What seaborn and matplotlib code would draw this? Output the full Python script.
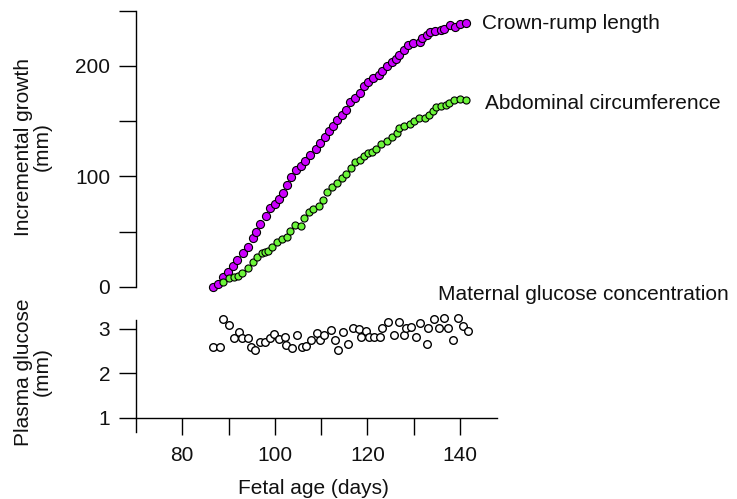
import matplotlib
matplotlib.use("Agg")
import matplotlib.pyplot as plt
import seaborn as sns
import pandas as pd

# Crown-rump length (purple)
crl_day = [86.6, 87.8, 88.7, 89.8, 90.9, 91.9, 93.1, 94.2, 95.2, 96.0, 96.9, 98.1, 99.0, 100.0,
           100.9, 101.8, 102.6, 103.5, 104.6, 105.7, 106.6, 107.7, 108.8, 109.8, 110.8, 111.6,
           112.5, 113.4, 114.5, 115.4, 116.3, 117.4, 118.4, 119.2, 120.1, 121.2, 122.4, 123.2,
           124.3, 125.3, 126.1, 126.9, 127.8, 128.8, 129.9, 131.3, 131.8, 132.9, 133.6, 134.7,
           135.8, 136.5, 137.8, 139.0, 140.1, 141.4]
crl_mm = [0.3, 2.7, 9.3, 13.8, 19.0, 24.4, 30.4, 36.5, 44.0, 49.4, 56.7, 64.2, 71.8, 75.1,
          79.3, 85.3, 92.3, 99.8, 105.9, 109.8, 114.0, 119.4, 124.9, 130.6, 136.0, 141.1,
          146.0, 151.1, 155.6, 160.2, 167.1, 171.3, 175.2, 181.9, 185.8, 188.8, 191.8, 195.4,
          200.0, 203.3, 206.3, 209.9, 214.5, 219.0, 220.5, 221.4, 225.6, 228.0, 230.4, 231.9,
          232.6, 233.2, 237.1, 235.6, 238.0, 239.2]

# Abdominal circumference (green)
ac_day = [88.9, 90.1, 91.1, 92.0, 93.0, 94.2, 95.2, 96.1, 97.3, 97.8, 98.6, 99.4, 100.4, 101.5,
          102.6, 103.3, 104.4, 105.6, 106.4, 107.3, 108.2, 109.5, 110.5, 111.3, 112.4, 113.4,
          114.5, 115.4, 116.5, 117.4, 118.5, 119.2, 120.1, 121.0, 121.9, 123.0, 124.3, 125.4,
          126.5, 126.9, 127.9, 129.1, 130.0, 131.1, 132.4, 133.3, 134.1, 134.9, 135.8, 136.9,
          137.7, 138.8, 140.1, 141.4]
ac_mm = [4.8, 8.4, 9.3, 10.2, 12.3, 17.5, 22.3, 26.8, 30.4, 31.3, 32.9, 35.9, 40.4, 43.1,
         45.5, 50.7, 56.1, 55.2, 62.1, 67.5, 70.6, 73.6, 78.7, 86.2, 90.2, 93.8,
         98.3, 101.9, 108.0, 112.8, 114.9, 118.8, 120.9, 121.8, 124.9, 129.1, 132.1, 136.0,
         139.0, 143.6, 145.7, 147.5, 150.5, 152.6, 152.6, 155.6, 159.2, 163.2, 163.8, 164.7,
         166.2, 169.2, 170.1, 169.2]

# Maternal plasma glucose (open circles)
glu_day = [86.6, 88.2, 88.9, 90.2, 91.2, 92.2, 92.8, 94.3, 94.9, 95.8, 96.7, 97.9, 98.9, 99.9,
           101.0, 102.3, 102.5, 103.6, 104.8, 105.9, 106.8, 107.8, 109.1, 109.7, 110.7, 112.1,
           112.9, 113.7, 114.7, 115.8, 116.8, 118.2, 118.7, 119.8, 120.3, 121.4, 122.7, 123.2,
           124.4, 125.7, 126.8, 127.9, 128.3, 129.5, 130.4, 131.3, 132.8, 133.1, 134.4, 135.5,
           136.5, 137.5, 138.5, 139.5, 140.7, 141.7]
glu_mm = [2.59, 2.60, 3.22, 3.10, 2.80, 2.94, 2.79, 2.80, 2.60, 2.53, 2.71, 2.70, 2.79, 2.88,
          2.77, 2.83, 2.64, 2.57, 2.87, 2.60, 2.62, 2.75, 2.90, 2.75, 2.87, 2.98,
          2.75, 2.53, 2.94, 2.66, 3.03, 3.00, 2.81, 2.96, 2.81, 2.81, 2.81, 3.03,
          3.15, 2.87, 3.16, 2.87, 3.03, 3.05, 2.83, 3.13, 2.66, 3.03, 3.22, 3.03,
          3.25, 3.03, 2.75, 3.25, 3.07, 2.96]

growth = pd.concat([
    pd.DataFrame({"day": crl_day, "mm": crl_mm, "series": "Crown-rump length"}),
    pd.DataFrame({"day": ac_day, "mm": ac_mm, "series": "Abdominal circumference"}),
])
glucose = pd.DataFrame({"day": glu_day, "mm": glu_mm})

sns.set_style("ticks")
plt.rcParams["font.family"] = ["Liberation Sans", "DejaVu Sans"]
fs = 15
plt.rcParams["font.size"] = fs

W, H = 737, 499
fig = plt.figure(figsize=(W / 100, H / 100), dpi=100)
ax1 = fig.add_axes([136 / W, (H - 292.5) / H, 361 / W, 287.3 / H])
ax2 = fig.add_axes([136 / W, (H - 432) / H, 361 / W, 116.4 / H])

PURPLE = "#cc00ff"
GREEN = "#6cf53a"

sns.scatterplot(data=growth[growth.series == "Crown-rump length"], x="day", y="mm", ax=ax1,
                color=PURPLE, edgecolor="black", linewidth=0.8, s=34, clip_on=False, zorder=3,
                legend=False)
sns.scatterplot(data=growth[growth.series == "Abdominal circumference"], x="day", y="mm", ax=ax1,
                color=GREEN, edgecolor="black", linewidth=0.8, s=26, clip_on=False, zorder=4,
                legend=False)
sns.scatterplot(data=glucose, x="day", y="mm", ax=ax2, facecolor="white", edgecolor="black",
                linewidth=1.0, s=30, clip_on=False, legend=False)

for ax in (ax1, ax2):
    ax.set_xlim(70, 148)
    ax.set_facecolor("none")
    ax.spines["top"].set_visible(False)
    ax.spines["right"].set_visible(False)
    ax.set_xlabel("")
    ax.set_ylabel("")
    ax.tick_params(length=12.5, width=1, direction="out", color="black",
                   labelsize=fs, labelcolor="#111111")
    for sp in ax.spines.values():
        sp.set_color("black")
        sp.set_linewidth(1)

ax1.set_ylim(-5, 255)
ax1.spines["bottom"].set_visible(False)
ax1.spines["left"].set_bounds(0, 250)
ax1.set_xticks([])
ax1.set_yticks([0, 50, 100, 150, 200, 250])
ax1.set_yticklabels(["0", "", "100", "", "200", ""])
ax1.tick_params(axis="y", pad=6)

ax2.set_ylim(0.685, 3.3)
ax2.spines["left"].set_bounds(0.685, 3.2)
ax2.spines["bottom"].set_position(("data", 1))
ax2.set_yticks([1, 2, 3])
ax2.set_yticklabels(["1", "2", "3"])
ax2.set_xticks([80, 90, 100, 110, 120, 130, 140])
ax2.set_xticklabels(["80", "", "100", "", "120", "", "140"])
ax2.tick_params(axis="y", pad=6)
ax2.tick_params(axis="x", pad=8)

fig.text(482 / W, (H - 29) / H, "Crown-rump length", ha="left", va="baseline", fontsize=fs, color="#111111")
fig.text(485 / W, (H - 109) / H, "Abdominal circumference", ha="left", va="baseline", fontsize=fs, color="#111111")
fig.text(438 / W, (H - 300) / H, "Maternal glucose concentration", ha="left", va="baseline", fontsize=fs, color="#111111")
fig.text(313 / W, (H - 494) / H, "Fetal age (days)", ha="center", va="baseline", fontsize=fs, color="#111111")
fig.text(33 / W, (H - 147) / H, "Incremental growth\n(mm)", rotation=90, ha="center", va="center",
         multialignment="center", linespacing=1.0, fontsize=fs, color="#111111")
fig.text(33 / W, (H - 372) / H, "Plasma glucose\n(mm)", rotation=90, ha="center", va="center",
         multialignment="center", linespacing=1.0, fontsize=fs, color="#111111")

fig.savefig("out.png", dpi=100)
